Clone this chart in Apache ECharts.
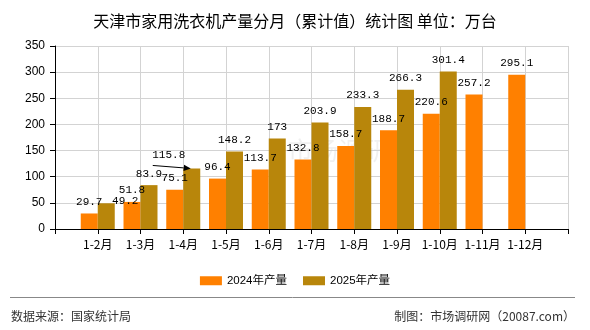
<!DOCTYPE html>
<html>
<head>
<meta charset="utf-8">
<script src="https://cdn.jsdelivr.net/npm/echarts@6/dist/echarts.min.js"></script>
<style>
  html, body { margin: 0; padding: 0; background: #fff; }
  #chart { width: 590px; height: 330px; }
</style>
</head>
<body>
<div id="chart"></div>
<script>
// Cumulative monthly output of household washing machines, Tianjin (10k units)
const categories = ['1-2月', '1-3月', '1-4月', '1-5月', '1-6月', '1-7月', '1-8月', '1-9月', '1-10月', '1-11月', '1-12月'];
const output2024 = [29.7, 51.8, 75.1, 96.4, 113.7, 132.8, 158.7, 188.7, 220.6, 257.2, 295.1];
const output2025 = [49.2, 83.9, 115.8, 148.2, 173, 203.9, 233.3, 266.3, 301.4, null, null];
const yTicks = [0, 50, 100, 150, 200, 250, 300, 350];

// The axis leaves an empty slot at each end, so categories sit on tick points
const axisCats = [''].concat(categories, ['']);
const pad = arr => [null].concat(arr, [null]);

// Labels that are nudged away from their neighbours
const labelNudge = { 1: { 0: [19, 9], 2: [-23, -2] } };

function buildData(values, seriesIdx) {
  return pad(values).map((v, i) => {
    const nudge = labelNudge[seriesIdx] && labelNudge[seriesIdx][i - 1];
    if (v === null) return null;
    return nudge ? { value: v, label: { offset: nudge } } : v;
  });
}

const chart = echarts.init(document.getElementById('chart'), null, { renderer: 'canvas' });
const labelFont = { fontFamily: 'Liberation Mono, DejaVu Sans Mono, monospace', fontSize: 11, color: '#000' };

const baseGraphics = [
  {
    id: 'watermark', type: 'text', x: 288, y: 138, z: 0, silent: true,
    style: { text: '市场调研网', font: '25px "Noto Sans CJK SC"', fill: 'rgba(110,110,110,0.10)' }
  },
  {
    id: 'rule', type: 'line', silent: true,
    shape: { x1: 10, y1: 297.5, x2: 575, y2: 297.5 },
    style: { stroke: '#888', lineWidth: 1 }
  },
  {
    id: 'source', type: 'text', x: 11, y: 310, silent: true,
    style: { text: '数据来源：国家统计局', font: '12px "Noto Sans CJK SC"', fill: '#333' }
  },
  {
    id: 'maker', type: 'text', x: 575, y: 310, silent: true,
    style: { text: '制图：市场调研网（20087.com）', font: '12px "Noto Sans CJK SC"', fill: '#333', align: 'right' }
  }
];

chart.setOption({
  animation: false,
  backgroundColor: '#fff',
  title: {
    text: '天津市家用洗衣机产量分月（累计值）统计图 单位：万台',
    left: 'center',
    top: 8,
    textStyle: { fontFamily: 'Noto Sans CJK SC', fontSize: 16, fontWeight: 'normal', color: '#000' }
  },
  legend: {
    top: 270,
    left: 'center',
    itemWidth: 22,
    itemHeight: 9,
    itemGap: 16,
    icon: 'rect',
    textStyle: { fontFamily: 'Liberation Sans, Noto Sans CJK SC', fontSize: 11.5, color: '#000' },
    data: ['2024年产量', '2025年产量']
  },
  grid: { left: 55, right: 22, top: 46, bottom: 101 },
  xAxis: {
    type: 'category',
    data: axisCats,
    boundaryGap: false,
    axisLine: { lineStyle: { color: '#000', width: 1 } },
    axisTick: { show: true, length: 5, lineStyle: { color: '#000' } },
    axisLabel: { interval: 0, margin: 9, fontFamily: 'Noto Sans CJK SC', fontSize: 12, color: '#000' },
    splitLine: { show: true, lineStyle: { color: '#d3d3d3', width: 1 } }
  },
  yAxis: {
    type: 'value',
    min: yTicks[0],
    max: yTicks[yTicks.length - 1],
    interval: yTicks[1] - yTicks[0],
    axisLine: { show: true, lineStyle: { color: '#000', width: 1 } },
    axisTick: { show: true, length: 5, lineStyle: { color: '#000' } },
    axisLabel: { margin: 10, fontFamily: 'Liberation Sans, Arial', fontSize: 12, color: '#000' },
    splitLine: { show: true, lineStyle: { color: '#d3d3d3', width: 1 } }
  },
  graphic: baseGraphics,
  series: [
    {
      name: '2024年产量',
      type: 'bar',
      data: buildData(output2024, 0),
      barWidth: 17,
      barGap: '0%',
      itemStyle: { color: '#FF8000' },
      label: Object.assign({ show: true, position: 'top', distance: 6 }, labelFont)
    },
    {
      name: '2025年产量',
      type: 'bar',
      data: buildData(output2025, 1),
      barWidth: 17,
      barGap: '0%',
      itemStyle: { color: '#B8860B' },
      label: Object.assign({ show: true, position: 'top', distance: 6 }, labelFont)
    }
  ]
});

// Leader arrow from the shifted 115.8 label to the top of its bar
(function drawLeader() {
  const data = chart.getModel().getSeriesByIndex(1).getData();
  const idx = axisCats.indexOf('1-4月');
  const lay = data.getItemLayout(idx);
  if (!lay) return;
  const cx = lay.x + lay.width / 2;
  const top = lay.y + lay.height;
  const tipX = cx - 1, tipY = top;
  const startX = cx - 39, startY = top - 3;
  const ang = Math.atan2(tipY - startY, tipX - startX);
  const len = 7, half = 3.2;
  const bx = tipX - len * Math.cos(ang), by = tipY - len * Math.sin(ang);
  const p1 = [bx + half * Math.sin(ang), by - half * Math.cos(ang)];
  const p2 = [bx - half * Math.sin(ang), by + half * Math.cos(ang)];
  chart.setOption({
    graphic: baseGraphics.concat([
      { id: 'leaderLine', type: 'line', silent: true, z: 50, shape: { x1: startX, y1: startY, x2: bx, y2: by }, style: { stroke: '#000', lineWidth: 1 } },
      { id: 'leaderHead', type: 'polygon', silent: true, z: 50, shape: { points: [[tipX, tipY], p1, p2] }, style: { fill: '#000' } }
    ])
  });
})();
</script>
</body>
</html>
